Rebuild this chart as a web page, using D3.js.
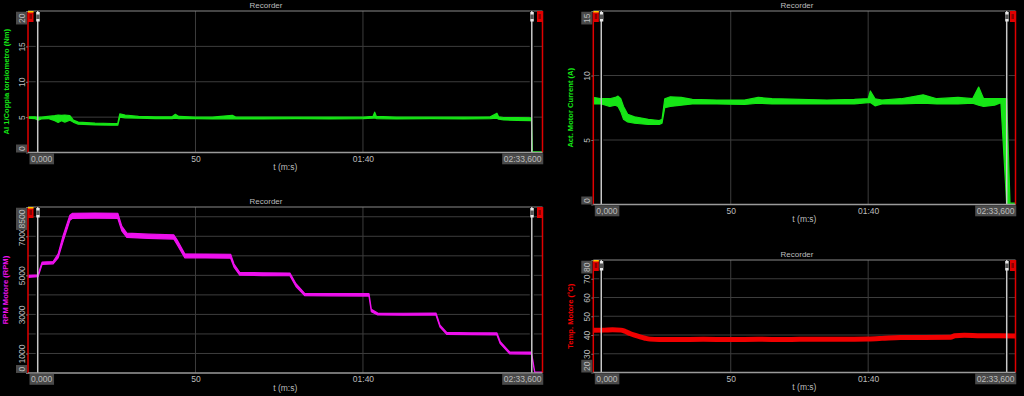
<!DOCTYPE html>
<html>
<head>
<meta charset="utf-8">
<script src="https://cdn.jsdelivr.net/npm/d3@7"></script>
<style>
  html, body { margin: 0; background: #000; }
  svg { display: block; font-family: "Liberation Sans", Arial, sans-serif; }
</style>
</head>
<body>
<svg id="chart" width="1024" height="396"></svg>
<script>
// time axis (seconds)
const timeMax = 153.6;
const xTickValues = [0, 50, 100, 153.6];
const xTickLabels = ["0,000", "50", "01:40", "02:33,600"];
const cursorTimes = [2.9, 150.4];

// AI 1/Coppia torsiometro (Nm) - min/max envelope
const torqueTime = [0, 2, 3, 4, 6, 8, 9, 10, 11, 12.5, 13.5, 15, 20, 25, 26.8, 27.4, 29, 33, 38, 43, 44, 45, 50, 55, 61, 62, 70, 80, 90, 100, 103, 103.5, 104, 110, 120, 130, 138, 140, 140.5, 142, 146, 150.3, 150.6, 153.6];
const torqueMin = [4.85, 4.8, 4.55, 4.75, 4.8, 4.5, 4.25, 4.5, 4.3, 4.55, 4.3, 4.0, 3.9, 3.85, 3.85, 5.0, 4.9, 4.85, 4.8, 4.8, 4.85, 4.8, 4.8, 4.75, 4.8, 4.75, 4.75, 4.8, 4.75, 4.8, 4.85, 4.9, 4.8, 4.75, 4.8, 4.75, 4.8, 4.85, 4.7, 4.6, 4.55, 4.5, 0, 0];
const torqueMax = [5.05, 5.05, 5.0, 5.0, 5.1, 5.2, 5.3, 5.25, 5.3, 5.2, 4.6, 4.3, 4.15, 4.1, 4.1, 5.45, 5.3, 5.1, 5.05, 5.05, 5.4, 5.1, 5.0, 5.0, 5.25, 5.0, 5.0, 5.0, 5.0, 5.0, 5.1, 5.7, 5.1, 5.0, 5.0, 5.0, 5.05, 5.55, 5.05, 4.95, 4.95, 4.9, 0.1, 0.1];
const torqueTicks = [0, 5, 10, 15, 20];
const torqueGrid = [5, 10, 15];

// Act. Motor Current (A)
const currentTime = [0, 3, 6, 8, 9, 10, 11, 12.5, 15, 20, 24, 25, 26, 28, 32, 36, 45, 55, 60, 65, 75, 85, 95, 100, 100.8, 102.5, 105, 112, 120, 125, 132.7, 138, 140.2, 142, 146, 148.3, 150.4, 151.6, 153.6];
const currentMin = [7.8, 7.8, 7.6, 7.7, 7.6, 7.2, 6.6, 6.4, 6.3, 6.2, 6.2, 6.3, 7.5, 7.6, 7.7, 7.8, 7.8, 7.75, 7.85, 7.8, 7.8, 7.8, 7.8, 7.9, 7.9, 7.65, 7.8, 7.8, 7.85, 7.8, 7.8, 7.85, 7.7, 7.6, 7.7, 7.9, 0, 0, 0];
const currentMax = [8.3, 8.2, 8.2, 8.3, 8.4, 8.2, 7.6, 7.0, 6.8, 6.6, 6.5, 6.6, 8.2, 8.35, 8.3, 8.15, 8.1, 8.1, 8.3, 8.2, 8.15, 8.1, 8.15, 8.2, 8.8, 8.2, 8.1, 8.2, 8.5, 8.2, 8.3, 8.2, 9.1, 8.2, 8.2, 8.2, 8.2, 0.1, 0.1];
const currentTicks = [0, 5, 10, 15];
const currentGrid = [5, 10];

// RPM Motore (RPM)
const rpmTime = [0, 3, 4.2, 7.5, 9, 10.5, 12.5, 13.3, 20, 26.8, 28, 29.5, 36, 43.5, 44.5, 46.8, 53, 60.5, 61.5, 63.2, 70, 78.2, 80, 82.6, 90, 101.8, 102.5, 104.4, 112, 121.8, 123, 125, 132, 140, 141, 143.8, 150.3, 151.3, 153.6];
const rpmMin = [4900, 4930, 5560, 5590, 5900, 6750, 7820, 7920, 7930, 7920, 7280, 6940, 6890, 6860, 6580, 5900, 5890, 5880, 5420, 5010, 4990, 4980, 4430, 3960, 3950, 3940, 3140, 2970, 2960, 2970, 2350, 1980, 1960, 1950, 1500, 980, 970, 0, 0];
const rpmMax = [5000, 5030, 5680, 5710, 6100, 7050, 8080, 8180, 8190, 8180, 7520, 7160, 7110, 7080, 6820, 6100, 6090, 6080, 5580, 5150, 5130, 5120, 4570, 4080, 4070, 4060, 3260, 3070, 3060, 3070, 2450, 2080, 2060, 2050, 1600, 1080, 1070, 40, 40];
const rpmTicks = [0, 1000, 3000, 5000, 7000, 8500];
const rpmGrid = [1000, 2000, 3000, 4000, 5000, 6000, 7000, 8000];

// Temp. Motore (°C)
const tempTime = [0, 4, 7, 10, 11.5, 13.3, 15, 17, 18.8, 20.6, 24, 30, 40, 50, 60, 70, 80, 90, 100, 105, 111.7, 120, 130, 131.5, 135, 141, 145, 153.6];
const tempValues = [42.5, 42.6, 42.8, 42.6, 42.0, 40.8, 39.9, 39.0, 38.3, 37.8, 37.6, 37.6, 37.7, 37.6, 37.7, 37.6, 37.8, 37.7, 37.9, 38.2, 38.7, 38.7, 38.8, 39.6, 39.9, 39.6, 39.6, 39.5];
const tempTicks = [20, 30, 40, 50, 60, 70, 80];
const tempGrid = [30, 40, 50, 60, 70];

const panels = [
  { id: "torque", left: 28, right: 542.5, top: 11, bottom: 152.5, titleX: 266, labelX: 6,
    label: "AI 1/Coppia torsiometro (Nm)", color: "#16e616", yDomain: [0, 20],
    ticks: torqueTicks, grid: torqueGrid, time: torqueTime, min: torqueMin, max: torqueMax },
  { id: "current", left: 593.3, right: 1015.5, top: 11, bottom: 204.5, titleX: 797, labelX: 570,
    label: "Act. Motor Current (A)", color: "#16e616", yDomain: [0, 15],
    ticks: currentTicks, grid: currentGrid, time: currentTime, min: currentMin, max: currentMax },
  { id: "rpm", left: 28, right: 542.5, top: 207, bottom: 373, titleX: 266, labelX: 5,
    label: "RPM Motore (RPM)", color: "#ee10ee", yDomain: [0, 8500],
    ticks: rpmTicks, grid: rpmGrid, time: rpmTime, min: rpmMin, max: rpmMax },
  { id: "temp", left: 593.3, right: 1015.5, top: 260, bottom: 372.5, titleX: 797, labelX: 570,
    label: "Temp. Motore (°C)", color: "#f00000", yDomain: [20, 80],
    ticks: tempTicks, grid: tempGrid, time: tempTime, values: tempValues, lineWidth: 5 }
];

const svg = d3.select("#chart");
svg.append("rect").attr("width", 1024).attr("height", 396).attr("fill", "#000");

function addBox(textSel) {
  // gray box behind a label, same transform as the text
  textSel.each(function() {
    const b = this.getBBox();
    d3.select(this.parentNode).insert("rect", "text")
      .attr("x", b.x - 1.5).attr("y", b.y - 0.5)
      .attr("width", b.width + 3).attr("height", b.height + 1)
      .attr("transform", d3.select(this).attr("transform"))
      .attr("fill", "#4a4a4a");
  });
}

function drawPanel(p) {
  const x = d3.scaleLinear().domain([0, timeMax]).range([p.left, p.right]);
  const y = d3.scaleLinear().domain(p.yDomain).range([p.bottom, p.top]);
  const g = svg.append("g").attr("class", "panel-" + p.id);

  // title
  g.append("text")
      .attr("x", p.titleX).attr("y", p.top - 3.5)
      .attr("text-anchor", "middle")
      .attr("fill", "#bdbdbd")
      .style("font-size", "8px")
      .text("Recorder");

  // grid
  g.selectAll(".hgrid").data(p.grid).join("line")
      .attr("class", "hgrid")
      .attr("x1", p.left).attr("x2", p.right)
      .attr("y1", d => y(d)).attr("y2", d => y(d))
      .attr("stroke", "#3d3d3d").attr("stroke-width", 1);
  g.selectAll(".vgrid").data(xTickValues.slice(1, -1)).join("line")
      .attr("class", "vgrid")
      .attr("x1", d => x(d)).attr("x2", d => x(d))
      .attr("y1", p.top).attr("y2", p.bottom)
      .attr("stroke", "#3d3d3d").attr("stroke-width", 1);

  // top border
  g.append("line")
      .attr("x1", p.left).attr("x2", p.right)
      .attr("y1", p.top).attr("y2", p.top)
      .attr("stroke", "#8a8a8a").attr("stroke-width", 1);

  // black gap around the cursors (under the series)
  cursorTimes.forEach(c => {
    g.append("line")
        .attr("x1", x(c)).attr("x2", x(c)).attr("y1", p.top + 0.5).attr("y2", p.bottom)
        .attr("stroke", "#000").attr("stroke-width", 4);
  });

  // clip
  const clipId = "clip-" + p.id;
  svg.append("clipPath").attr("id", clipId)
    .append("rect")
      .attr("x", p.left).attr("y", p.top)
      .attr("width", p.right - p.left).attr("height", p.bottom - p.top);

  const series = g.append("g").attr("clip-path", `url(#${clipId})`);
  if (p.values) {
    const line = d3.line()
        .x((d, i) => x(p.time[i]))
        .y(d => y(d))
        .curve(d3.curveMonotoneX);
    series.append("path")
        .datum(p.values)
        .attr("d", line)
        .attr("fill", "none")
        .attr("stroke", p.color)
        .attr("stroke-width", p.lineWidth);
  } else {
    const area = d3.area()
        .x((d, i) => x(p.time[i]))
        .y0((d, i) => y(p.min[i]))
        .y1((d, i) => y(p.max[i]));
    series.append("path")
        .datum(p.time)
        .attr("d", area)
        .attr("fill", p.color)
        .attr("stroke", p.color)
        .attr("stroke-width", 1.2)
        .attr("stroke-linejoin", "round");
  }

  // cursors
  cursorTimes.forEach(c => {
    g.append("line")
        .attr("x1", x(c)).attr("x2", x(c)).attr("y1", p.top).attr("y2", p.bottom)
        .attr("stroke", "#c8c8c8").attr("stroke-width", 1.5);
    g.append("rect")
        .attr("x", x(c) - 1.5).attr("y", p.top + 1)
        .attr("width", 3.5).attr("height", 9.5)
        .attr("fill", "#e8e8e8");
    g.append("rect")
        .attr("x", x(c) - 1.5).attr("y", p.top + 3.5)
        .attr("width", 3.5).attr("height", 4.5)
        .attr("fill", "#555");
  });

  // red axis ends
  [0, timeMax].forEach((t, i) => {
    g.append("line")
        .attr("x1", x(t)).attr("x2", x(t)).attr("y1", p.top).attr("y2", p.bottom)
        .attr("stroke", "#e00000").attr("stroke-width", 1.5);
    const mx = i === 0 ? x(t) : x(t) - 5.5;
    g.append("rect")
        .attr("x", mx).attr("y", p.top)
        .attr("width", 5.5).attr("height", 11)
        .attr("fill", "#e00000");
    g.append("rect")
        .attr("x", mx + 1.5).attr("y", p.top + 3)
        .attr("width", 2.5).attr("height", 5)
        .attr("fill", "#8a0000");
    if (i === 0) {
      g.append("rect")
          .attr("x", mx).attr("y", p.top)
          .attr("width", 5.5).attr("height", 1.5)
          .attr("fill", "#ffcc00");
    }
  });

  // bottom axis line
  g.append("line")
      .attr("x1", p.left).attr("x2", p.right)
      .attr("y1", p.bottom).attr("y2", p.bottom)
      .attr("stroke", "#9a9a9a").attr("stroke-width", 1.5);

  // y axis
  const yAxis = g.append("g")
      .attr("transform", `translate(${p.left},0)`)
      .call(d3.axisLeft(y).tickValues(p.ticks).tickSize(2).tickFormat(d3.format("d")));
  yAxis.select(".domain").remove();
  yAxis.selectAll(".tick line").attr("stroke", "#777");
  const yText = yAxis.selectAll(".tick text")
      .attr("fill", "#bdbdbd")
      .style("font-size", "8.5px")
      .attr("transform", "rotate(-90)")
      .attr("y", -3.5)
      .attr("dy", 0)
      .attr("x", (d, i) => i === 0 ? 2 : (i === p.ticks.length - 1 ? -2 : 0))
      .attr("text-anchor", (d, i) => i === 0 ? "start" : (i === p.ticks.length - 1 ? "end" : "middle"));
  addBox(yText.filter((d, i) => i === 0 || i === p.ticks.length - 1));

  // x axis
  const xAxis = g.append("g")
      .attr("transform", `translate(0,${p.bottom})`)
      .call(d3.axisBottom(x).tickValues(xTickValues).tickSize(0).tickFormat((d, i) => xTickLabels[i]));
  xAxis.select(".domain").remove();
  const xText = xAxis.selectAll(".tick text")
      .attr("fill", "#bdbdbd")
      .style("font-size", "8.5px")
      .attr("y", 9.3)
      .attr("dy", 0)
      .attr("x", (d, i) => i === 0 ? 2.5 : (i === xTickValues.length - 1 ? -1.5 : 0))
      .attr("text-anchor", (d, i) => i === 0 ? "start" : (i === xTickValues.length - 1 ? "end" : "middle"));
  addBox(xText.filter((d, i) => i === 0 || i === xTickValues.length - 1));

  g.append("text")
      .attr("x", (p.left + p.right) / 2).attr("y", p.bottom + 17.5)
      .attr("text-anchor", "middle")
      .attr("fill", "#bdbdbd")
      .style("font-size", "8.5px")
      .text("t (m:s)");

  // y axis label
  g.append("text")
      .attr("transform", `translate(${p.labelX},${(p.top + p.bottom) / 2}) rotate(-90)`)
      .attr("dy", "0.35em")
      .attr("text-anchor", "middle")
      .attr("fill", p.color)
      .style("font-size", "7.6px")
      .style("font-weight", "bold")
      .text(p.label);
}

panels.forEach(drawPanel);
</script>
</body>
</html>
